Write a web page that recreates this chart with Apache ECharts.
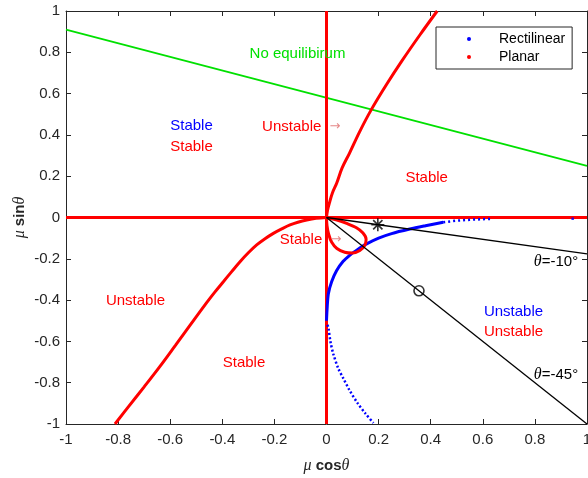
<!DOCTYPE html>
<html>
<head>
<meta charset="utf-8">
<script src="https://cdn.jsdelivr.net/npm/echarts@6/dist/echarts.min.js"></script>
<style>
html,body{margin:0;padding:0;background:#fff;}
#c{width:588px;height:478px;}
</style>
</head>
<body>
<div id="c"></div>
<script>
// ---- data ----
const axisMin = -1, axisMax = 1, axisStep = 0.2;

const planarAxisH = [[-1, 0], [1, 0]];
const planarAxisV = [[0, -1], [0, 1]];

const planarUpperX = [0, 0.004, 0.011, 0.023, 0.039, 0.06, 0.088, 0.127, 0.171, 0.231, 0.292, 0.359, 0.425];
const planarUpperY = [0, 0.035, 0.07, 0.12, 0.166, 0.24, 0.311, 0.415, 0.52, 0.645, 0.763, 0.885, 1.0];

const planarLowerX = [0, -0.04, -0.076, -0.11, -0.14, -0.17, -0.204, -0.236, -0.268, -0.30, -0.332, -0.364, -0.396, -0.428, -0.46, -0.52, -0.58, -0.64, -0.70, -0.76, -0.812];
const planarLowerY = [0, -0.004, -0.012, -0.023, -0.036, -0.054, -0.077, -0.103, -0.133, -0.171, -0.214, -0.262, -0.311, -0.36, -0.412, -0.515, -0.619, -0.722, -0.82, -0.916, -1.0];

const planarLoopX = [0, 0.002, 0.008, 0.02, 0.04, 0.07, 0.1, 0.128, 0.147, 0.152, 0.14, 0.115, 0.08, 0.04, 0];
const planarLoopY = [0, -0.04, -0.08, -0.12, -0.15, -0.168, -0.172, -0.16, -0.135, -0.105, -0.075, -0.05, -0.03, -0.012, 0];

const rectSolidX = [0, 0.002, 0.007, 0.02, 0.039, 0.064, 0.09, 0.116, 0.154, 0.2, 0.25, 0.32, 0.38, 0.448];
const rectSolidY = [-0.5, -0.45, -0.37, -0.31, -0.257, -0.212, -0.182, -0.158, -0.128, -0.1, -0.078, -0.056, -0.04, -0.023];

const rectTailX = [0.448, 0.5, 0.55, 0.6, 0.63];
const rectTailY = [-0.023, -0.015, -0.011, -0.008, -0.007];

const rectLowerX = [0.003, 0.007, 0.015, 0.026, 0.045, 0.065, 0.09, 0.12, 0.15, 0.18];
const rectLowerY = [-0.52, -0.532, -0.6, -0.66, -0.73, -0.78, -0.84, -0.9, -0.95, -0.995];

const rectStray = [[0.945, -0.006]];

const noEqLine = [[-1, 0.91], [1, 0.25]];
const theta10Line = [[0, 0], [1, -0.1763]];
const theta45Line = [[0, 0], [1, -1]];

const starPoint = [[0.197, -0.035]];
const circlePoint = [[0.355, -0.355]];

const legendNames = ['Rectilinear', 'Planar'];

// ---- helpers ----
const zip = (xs, ys) => xs.map((x, i) => [x, ys[i]]);
const RED = '#ff0000', BLUE = '#0000ff', GREEN = '#00e000', INK = '#262626';
const FONT = 'Liberation Sans, Arial, Helvetica, sans-serif';
const SERIF = 'Liberation Serif, Times New Roman, serif';

const asterisk = 'path://M0,10.5L24,10.5L24,13.5L0,13.5Z M10.5,0L13.5,0L13.5,24L10.5,24Z M4.5,2.4L21.6,19.5L19.5,21.6L2.4,4.5Z M19.5,2.4L21.6,4.5L4.5,21.6L2.4,19.5Z';

function lineSeries(name, data, color, width, extra) {
  return Object.assign({
    type: 'line', name: name, data: data, showSymbol: false, symbol: 'none',
    lineStyle: { color: color, width: width }, itemStyle: { color: color },
    xAxisIndex: 0, yAxisIndex: 0, silent: true
  }, extra || {});
}

const baseAxis = {
  type: 'value', min: axisMin, max: axisMax, interval: axisStep,
  axisLine: { show: true, onZero: false, lineStyle: { color: INK, width: 1 } },
  axisTick: { show: true, inside: true, length: 5, lineStyle: { color: INK, width: 1 } },
  splitLine: { show: false }
};

const chart = echarts.init(document.getElementById('c'), null, { renderer: 'canvas' });

const option = {
  animation: false,
  backgroundColor: '#ffffff',
  textStyle: { fontFamily: FONT },
  grid: { left: 66, right: 1, top: 11, bottom: 54, containLabel: false, outerBoundsMode: 'none' },
  legend: {
    orient: 'vertical', left: 436, top: 27,
    data: [
      { name: legendNames[0], icon: 'circle', itemStyle: { color: BLUE } },
      { name: legendNames[1], icon: 'circle', itemStyle: { color: RED } }
    ],
    itemWidth: 4, itemHeight: 4, itemGap: 2,
    padding: [4, 7, 4, 31],
    borderColor: INK, borderWidth: 1, backgroundColor: '#fff',
    selectedMode: false,
    textStyle: { fontSize: 14, color: '#000', fontFamily: FONT, padding: [0, 0, 0, 23], lineHeight: 16 }
  },
  xAxis: [
    Object.assign({}, baseAxis, {
      position: 'bottom',
      axisLabel: { fontSize: 15, color: INK, margin: 8, fontFamily: FONT },
      name: '{i|μ} {b|cos}{i|θ}', nameLocation: 'middle', nameGap: 34, nameMoveOverlap: false,
      nameTextStyle: {
        color: INK, fontSize: 15,
        rich: {
          i: { fontStyle: 'italic', fontFamily: SERIF, fontSize: 16, color: INK },
          b: { fontWeight: 'bold', fontFamily: FONT, fontSize: 15, color: INK }
        }
      }
    }),
    Object.assign({}, baseAxis, { position: 'top', axisLabel: { show: false } })
  ],
  yAxis: [
    Object.assign({}, baseAxis, {
      position: 'left',
      axisLabel: { fontSize: 15, color: INK, margin: 6, fontFamily: FONT },
      name: '{i|μ} {b|sin}{i|θ}', nameLocation: 'middle', nameGap: 38, nameMoveOverlap: false,
      nameTextStyle: {
        color: INK, fontSize: 15,
        rich: {
          i: { fontStyle: 'italic', fontFamily: SERIF, fontSize: 16, color: INK },
          b: { fontWeight: 'bold', fontFamily: FONT, fontSize: 15, color: INK }
        }
      }
    }),
    Object.assign({}, baseAxis, { position: 'right', axisLabel: { show: false } })
  ],
  series: [
    lineSeries('noeq', noEqLine, GREEN, 1.8, { z: 2 }),
    lineSeries(legendNames[1], planarAxisH, RED, 3, { z: 3 }),
    lineSeries(legendNames[1], planarAxisV, RED, 3, { z: 3 }),
    lineSeries(legendNames[1], zip(planarUpperX, planarUpperY), RED, 3, { z: 3, smooth: 0.35 }),
    lineSeries(legendNames[1], zip(planarLowerX, planarLowerY), RED, 3, { z: 3, smooth: 0.35 }),
    lineSeries(legendNames[0], zip(rectSolidX, rectSolidY), BLUE, 3, { z: 4, smooth: 0.3 }),
    lineSeries(legendNames[0], zip(rectTailX, rectTailY), BLUE, 2.5, { z: 4, lineStyle: { color: BLUE, width: 2.5, type: [2, 3] } }),
    lineSeries(legendNames[0], zip(rectLowerX, rectLowerY), BLUE, 2.5, { z: 4, smooth: 0.3, lineStyle: { color: BLUE, width: 2.5, type: [2, 2.2] } }),
    { type: 'scatter', name: legendNames[0], data: rectStray, symbol: 'rect', symbolSize: 2.5, itemStyle: { color: BLUE }, z: 4, silent: true },
    lineSeries(legendNames[1], zip(planarLoopX, planarLoopY), RED, 3, { z: 5, smooth: 0.3 }),
    lineSeries('t10', theta10Line, '#000', 1.3, { z: 6 }),
    lineSeries('t45', theta45Line, '#000', 1.3, { z: 6 }),
    { type: 'scatter', name: 'star', data: starPoint, symbol: asterisk, symbolSize: 13, itemStyle: { color: '#000' }, z: 7, silent: true },
    { type: 'scatter', name: 'circle', data: circlePoint, symbol: 'circle', symbolSize: 10, itemStyle: { color: 'rgba(0,0,0,0)', borderColor: '#000', borderWidth: 1.6 }, z: 7, silent: true }
  ],
  graphic: []
};

chart.setOption(option);

// annotations in pixel space
function txt(x, y, text, color, extra) {
  return {
    type: 'text', x: x, y: y, z: 100, silent: true,
    style: Object.assign({ text: text, fill: color, fontSize: 15, fontFamily: FONT, align: 'center', verticalAlign: 'middle' }, extra || {})
  };
}
const thetaRich = { i: { fontStyle: 'italic', fontFamily: SERIF, fontSize: 16, fill: '#000' } };
const ARROW = '#e58a8a';
chart.setOption({
  graphic: [
    txt(297.5, 54, 'No equilibirum', GREEN),
    txt(191.5, 126, 'Stable', BLUE),
    txt(191.5, 147, 'Stable', RED),
    txt(291.7, 127, 'Unstable', RED),
    txt(335, 127, '→', ARROW, { fontSize: 13, fontFamily: 'DejaVu Sans' }),
    txt(426.7, 177.5, 'Stable', RED),
    txt(301, 239.5, 'Stable', RED),
    txt(336, 240, '→', ARROW, { fontSize: 13, fontFamily: 'DejaVu Sans' }),
    txt(135.5, 301, 'Unstable', RED),
    txt(244, 362.5, 'Stable', RED),
    txt(513.5, 312, 'Unstable', BLUE),
    txt(513.5, 332, 'Unstable', RED),
    txt(556, 262, '{i|θ}=-10°', '#000', { rich: thetaRich }),
    txt(556, 375, '{i|θ}=-45°', '#000', { rich: thetaRich })
  ]
});
</script>
</body>
</html>
